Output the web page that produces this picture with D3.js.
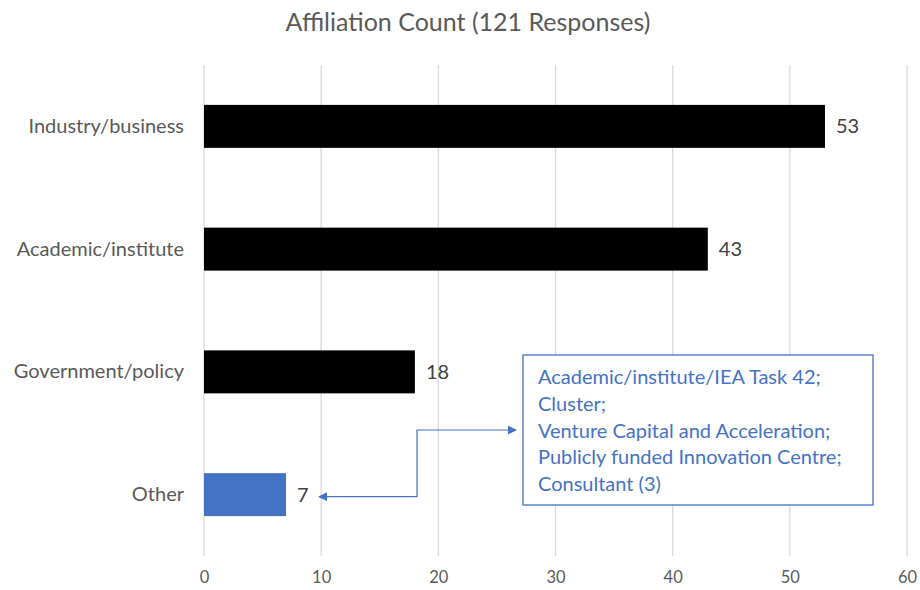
<!DOCTYPE html>
<html>
<head>
<meta charset="utf-8">
<script src="https://cdn.jsdelivr.net/npm/d3@7"></script>
<style>
  body { margin: 0; background: #fff; }
  svg { display: block; font-family: Lato, "Liberation Sans", sans-serif; }
</style>
</head>
<body>
<svg id="chart" width="920" height="590"></svg>
<script>
// Affiliation categories and response counts
const categories = ["Industry/business", "Academic/institute", "Government/policy", "Other"];
const counts = [53, 43, 18, 7];
const barColors = ["#000000", "#000000", "#000000", "#4472C4"];
const xTicks = [0, 10, 20, 30, 40, 50, 60];
const titleText = "Affiliation Count (121 Responses)";
const otherBreakdown = [
  "Academic/institute/IEA Task 42;",
  "Cluster;",
  "Venture Capital and Acceleration;",
  "Publicly funded Innovation Centre;",
  "Consultant (3)"
];

const svg = d3.select("#chart");
const margin = { top: 65, right: 13, bottom: 34, left: 204 };
const width = 920, height = 590;
const textGrey = "#595959";
const blue = "#4472C4";

const x = d3.scaleLinear().domain([0, 60]).range([margin.left, width - margin.right]);
const y = d3.scaleBand().domain(categories)
  .range([margin.top, height - margin.bottom])
  .paddingInner(0.65).paddingOuter(0.325);

// Title
svg.append("text")
  .attr("x", 468).attr("y", 31)
  .attr("text-anchor", "middle")
  .attr("font-size", 25)
  .attr("fill", textGrey)
  .text(titleText);

// Vertical gridlines
svg.append("g").selectAll("line").data(xTicks).join("line")
  .attr("x1", d => x(d)).attr("x2", d => x(d))
  .attr("y1", margin.top).attr("y2", height - margin.bottom)
  .attr("stroke", "#d9d9d9").attr("stroke-width", 1.3);

// X axis labels
const xAxis = svg.append("g")
  .attr("transform", `translate(0,${height - margin.bottom})`)
  .call(d3.axisBottom(x).tickValues(xTicks).tickSize(0).tickPadding(15));
xAxis.select(".domain").remove();
xAxis.selectAll("text").attr("font-size", 16.5).attr("fill", textGrey)
  .attr("font-family", "Lato, sans-serif");

// Y axis labels
const yAxis = svg.append("g")
  .attr("transform", `translate(${margin.left},0)`)
  .call(d3.axisLeft(y).tickSize(0).tickPadding(20));
yAxis.select(".domain").remove();
yAxis.selectAll("text").attr("font-size", 20).attr("fill", textGrey)
  .attr("font-family", "Lato, sans-serif");

// Bars
const rows = categories.map((c, i) => ({ cat: c, value: counts[i], color: barColors[i] }));
svg.append("g").selectAll("rect").data(rows).join("rect")
  .attr("x", x(0))
  .attr("y", d => y(d.cat))
  .attr("width", d => x(d.value) - x(0))
  .attr("height", y.bandwidth())
  .attr("fill", d => d.color);

// Value labels
svg.append("g").selectAll("text").data(rows).join("text")
  .attr("x", d => x(d.value) + 11)
  .attr("y", d => y(d.cat) + y.bandwidth() / 2)
  .attr("dy", "0.35em")
  .attr("font-size", 20)
  .attr("fill", "#404040")
  .text(d => d.value);

// Callout box listing the "Other" responses
const box = { x: 523, y: 355, w: 350, h: 150 };
svg.append("rect")
  .attr("x", box.x).attr("y", box.y)
  .attr("width", box.w).attr("height", box.h)
  .attr("fill", "#fff").attr("stroke", blue).attr("stroke-width", 1.3);
svg.append("g").selectAll("text").data(otherBreakdown).join("text")
  .attr("x", box.x + 15)
  .attr("y", (d, i) => box.y + 22 + i * 26.8)
  .attr("dy", "0.35em")
  .attr("font-size", 20)
  .attr("fill", blue)
  .text(d => d);

// Elbow connector with arrowheads at both ends
const defs = svg.append("defs");
defs.append("marker")
  .attr("id", "arrow")
  .attr("viewBox", "0 0 10 10")
  .attr("refX", 9).attr("refY", 5)
  .attr("markerWidth", 9).attr("markerHeight", 9)
  .attr("markerUnits", "userSpaceOnUse")
  .attr("orient", "auto-start-reverse")
  .append("path").attr("d", "M0,0L10,5L0,10z").attr("fill", blue);

const otherMid = y("Other") + y.bandwidth() / 2;
const elbowX = 417;
const connectorY = 430;
svg.append("path")
  .attr("d", `M${x(counts[3]) + 33},${otherMid + 2} H${elbowX} V${connectorY} H${box.x - 7}`)
  .attr("fill", "none")
  .attr("stroke", blue)
  .attr("stroke-width", 1.2)
  .attr("marker-start", "url(#arrow)")
  .attr("marker-end", "url(#arrow)");
</script>
</body>
</html>
